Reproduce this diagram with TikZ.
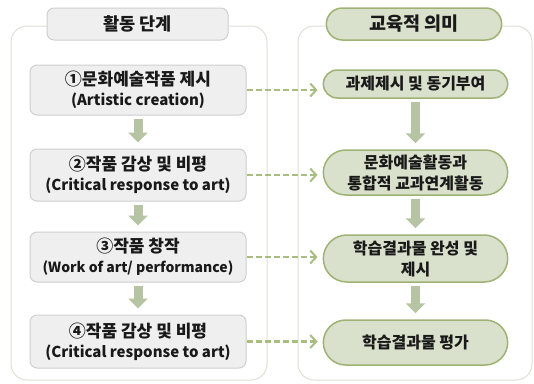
\documentclass[tikz,border=0pt]{standalone}
\usepackage{fontspec}
\setmainfont{Noto Sans CJK KR}
\usetikzlibrary{arrows.meta,shapes.misc}
\definecolor{boxgray}{HTML}{EFEFEF}
\definecolor{linegray}{HTML}{CFCFCF}
\definecolor{boxgreen}{HTML}{D9E0CB}
\definecolor{linegreen}{HTML}{9EB274}
\definecolor{dashgreen}{HTML}{A9BD80}
\definecolor{blockgreen}{HTML}{B7C4A3}
\definecolor{panelline}{HTML}{DDE1D5}
\newcommand{\kr}{\fontsize{17}{20}\selectfont}
\begin{document}
\begin{tikzpicture}[x=1pt,y=-1pt,
  panel/.style={draw=panelline, line width=1pt, rounded corners=16pt},
  stage/.style={draw=linegray, fill=boxgray, line width=1pt, rounded corners=7pt, minimum width=216pt, align=center, text=black!90, font=\bfseries\fontsize{15}{20}\selectfont},
  meaning/.style={rounded rectangle, draw=linegreen, fill=boxgreen, line width=1.5pt, minimum width=191pt, align=center, text=black!90, font=\bfseries\fontsize{16}{21}\selectfont},
  blockarr/.style={blockgreen, line width=9pt, -{Triangle[length=10pt,width=19pt]}},
  linkarr/.style={dashgreen, line width=2.5pt, dash pattern=on 6pt off 3pt, -{Straight Barb[length=6pt,width=13pt,line width=2pt]}, shorten >=5pt}]
\useasboundingbox (0,0) rectangle (534,383);
\draw[panel] (11,26) rectangle (267,380);
\draw[panel] (298,26) rectangle (532,380);
\node[stage, minimum width=181pt, minimum height=32pt, font=\bfseries\fontsize{17.5}{22}\selectfont] (ltitle) at (137.5,24) {활동 단계};
\node[meaning, minimum width=182pt, minimum height=32pt, font=\bfseries\fontsize{18.5}{22}\selectfont] (rtitle) at (414,24) {교육적 의미};
\node[stage, minimum height=50pt] (l1) at (138,90) {{\kr ①문화예술작품 제시}\\(Artistic creation)};
\node[stage, minimum height=52pt] (l2) at (138,175) {{\kr ②작품 감상 및 비평}\\(Critical response to art)};
\node[stage, minimum height=50pt] (l3) at (138,257) {{\kr ③작품 창작}\\{\fontsize{14}{18}\selectfont(Work of art/ performance)}};
\node[stage, minimum height=53pt] (l4) at (138,341.5) {{\kr ④작품 감상 및 비평}\\(Critical response to art)};
\node[meaning, minimum height=28pt] (r1) at (415.5,84) {과제제시 및 동기부여};
\node[meaning, minimum height=45pt] (r2) at (415.5,172.5) {문화예술활동과\\통합적 교과연계활동};
\node[meaning, minimum height=47pt] (r3) at (415.5,258.5) {학습결과물 완성 및\\제시};
\node[meaning, minimum height=45pt] (r4) at (415.5,342.5) {학습결과물 평가};
\foreach \a/\b in {l1/l2,l2/l3,l3/l4,r1/r2,r2/r3,r3/r4}
  \draw[blockarr] ([yshift=-3pt]\a.south) -- ([yshift=6pt]\b.north);
\foreach \i in {1,2,3,4}
  \draw[linkarr] (l\i.east) -- (l\i.east -| r\i.west);
\end{tikzpicture}
\end{document}
